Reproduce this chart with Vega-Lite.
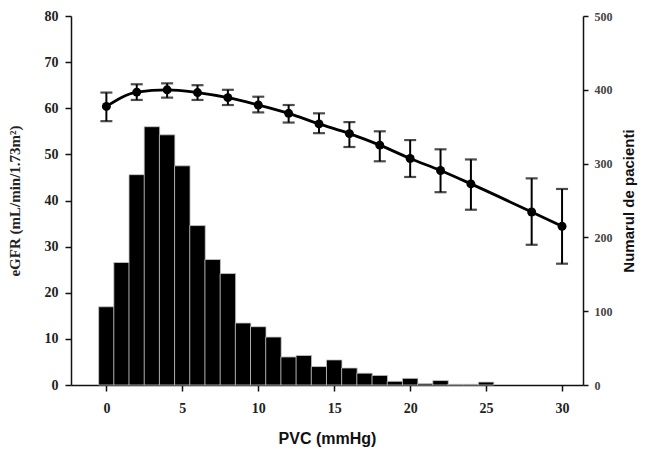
{
  "$schema": "https://vega.github.io/schema/vega-lite/v6.json",
  "autosize": "none",
  "width": 512,
  "height": 369,
  "padding": {"left": 71, "top": 16, "right": 63, "bottom": 70},
  "background": "white",
  "config": {"view": {"stroke": null}, "axis": {"grid": false, "domainColor": "#111", "tickColor": "#111", "domainWidth": 1.5, "tickWidth": 1.5}},
  "datasets": {
    "hist": [
      {"pvc": 0, "n": 106}, {"pvc": 1, "n": 166}, {"pvc": 2, "n": 285}, {"pvc": 3, "n": 350},
      {"pvc": 4, "n": 339}, {"pvc": 5, "n": 297}, {"pvc": 6, "n": 216}, {"pvc": 7, "n": 170},
      {"pvc": 8, "n": 151}, {"pvc": 9, "n": 84}, {"pvc": 10, "n": 79}, {"pvc": 11, "n": 65},
      {"pvc": 12, "n": 38}, {"pvc": 13, "n": 40}, {"pvc": 14, "n": 25}, {"pvc": 15, "n": 34},
      {"pvc": 16, "n": 23}, {"pvc": 17, "n": 16}, {"pvc": 18, "n": 13}, {"pvc": 19, "n": 5},
      {"pvc": 20, "n": 9}, {"pvc": 21, "n": 2}, {"pvc": 22, "n": 6}, {"pvc": 23, "n": 1},
      {"pvc": 24, "n": 1}, {"pvc": 25, "n": 4}
    ],
    "egfr": [
      {"pvc": 0, "mean": 60.4, "lo": 57.2, "hi": 63.4},
      {"pvc": 2, "mean": 63.5, "lo": 61.8, "hi": 65.2},
      {"pvc": 4, "mean": 64.0, "lo": 62.3, "hi": 65.4},
      {"pvc": 6, "mean": 63.4, "lo": 61.8, "hi": 65.0},
      {"pvc": 8, "mean": 62.3, "lo": 60.7, "hi": 64.0},
      {"pvc": 10, "mean": 60.7, "lo": 59.1, "hi": 62.5},
      {"pvc": 12, "mean": 58.9, "lo": 56.9, "hi": 60.7},
      {"pvc": 14, "mean": 56.6, "lo": 54.6, "hi": 58.9},
      {"pvc": 16, "mean": 54.5, "lo": 51.6, "hi": 57.0},
      {"pvc": 18, "mean": 52.0, "lo": 48.5, "hi": 55.0},
      {"pvc": 20, "mean": 49.1, "lo": 45.1, "hi": 53.1},
      {"pvc": 22, "mean": 46.5, "lo": 41.8, "hi": 51.1},
      {"pvc": 24, "mean": 43.6, "lo": 38.0, "hi": 48.9},
      {"pvc": 28, "mean": 37.5, "lo": 30.4, "hi": 44.8},
      {"pvc": 30, "mean": 34.4, "lo": 26.3, "hi": 42.5}
    ]
  },
  "layer": [
    {
      "data": {"name": "hist"},
      "mark": {"type": "bar", "color": "#000", "stroke": "#c8c8c8", "strokeWidth": 0.8, "width": 15.5},
      "encoding": {
        "x": {"field": "pvc", "type": "quantitative",
          "scale": {"domain": [-2, 31.05], "nice": false, "zero": false},
          "axis": {"values": [0, 5, 10, 15, 20, 25, 30], "title": "PVC  (mmHg)", "labelFont": "Liberation Serif", "labelFontWeight": "bold", "labelFontSize": 14, "labelColor": "#222", "labelPadding": 10, "tickSize": 6,
            "titleFont": "Liberation Sans", "titleFontWeight": "bold", "titleFontSize": 16, "titleColor": "#111", "titlePadding": 15}},
        "y": {"field": "n", "type": "quantitative",
          "scale": {"domain": [0, 500], "nice": false},
          "axis": {"orient": "right", "values": [0, 100, 200, 300, 400, 500], "title": "Numarul de pacienti", "titleAngle": 270, "titleFont": "Liberation Sans", "titleFontWeight": "bold", "titleFontSize": 15, "titleColor": "#111", "titlePadding": 24,
            "labelFont": "Liberation Serif", "labelFontWeight": "bold", "labelFontSize": 12, "labelColor": "#444", "tickSize": 5, "labelPadding": 6}}
      }
    },
    {
      "data": {"name": "egfr"},
      "encoding": {
        "x": {"field": "pvc", "type": "quantitative", "scale": {"domain": [-2, 31.05], "nice": false, "zero": false}},
        "y": {"field": "mean", "type": "quantitative",
          "scale": {"domain": [0, 80], "nice": false},
          "axis": {"orient": "left", "values": [0, 10, 20, 30, 40, 50, 60, 70, 80], "title": "eGFR (mL/min/1.73m²)", "titleFont": "Liberation Serif", "titleFontWeight": "bold", "titleFontSize": 15, "titleColor": "#222", "titlePadding": 22,
            "labelFont": "Liberation Serif", "labelFontWeight": "bold", "labelFontSize": 14, "labelColor": "#222", "tickSize": 6, "labelPadding": 7}}
      },
      "layer": [
        {"mark": {"type": "line", "color": "#000", "strokeWidth": 2.8, "interpolate": "monotone"}},
        {"mark": {"type": "rule", "color": "#000", "strokeWidth": 2}, "encoding": {"y": {"field": "lo", "type": "quantitative"}, "y2": {"field": "hi"}}},
        {"mark": {"type": "tick", "color": "#000", "orient": "horizontal", "size": 12, "thickness": 2.2}, "encoding": {"y": {"field": "lo", "type": "quantitative"}}},
        {"mark": {"type": "tick", "color": "#000", "orient": "horizontal", "size": 12, "thickness": 2.2}, "encoding": {"y": {"field": "hi", "type": "quantitative"}}},
        {"mark": {"type": "point", "filled": true, "color": "#000", "size": 80, "opacity": 1}}
      ]
    }
  ],
  "resolve": {"scale": {"y": "independent"}, "axis": {"y": "independent"}}
}
